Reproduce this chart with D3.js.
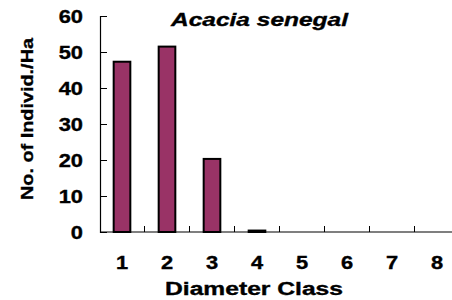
<!doctype html>
<html>
<head>
<meta charset="UTF-8">
<script src="https://d3js.org/d3.v7.min.js"></script>
<style>
  body { margin: 0; background: #fff; }
  text { font-family: Arial, "Liberation Sans", sans-serif; font-weight: bold; fill: #000; stroke: #000; stroke-width: 0.35px; }
</style>
</head>
<body>
<script>
var classes = ["1", "2", "3", "4", "5", "6", "7", "8"];
var individ = [47.3, 51.5, 20.3, 0.4, 0, 0, 0, 0];
var yTicks = [0, 10, 20, 30, 40, 50, 60];

var w = 452, h = 300;
var svg = d3.select("body").append("svg").attr("width", w).attr("height", h);

var x = d3.scaleBand().domain(classes).range([99.5, 459.5]).paddingInner(0.63).paddingOuter(0.315);
var y = d3.scaleLinear().domain([0, 60]).range([232, 16]);

// bars
svg.selectAll("rect.bar").data(individ).enter().append("rect")
  .attr("class", "bar")
  .attr("x", function (d, i) { return x(classes[i]); })
  .attr("y", function (d) { return y(d); })
  .attr("width", x.bandwidth())
  .attr("height", function (d) { return y(0) - y(d); })
  .attr("fill", "#993366")
  .attr("stroke", "#000")
  .attr("stroke-width", function (d) { return d > 0 ? 2 : 0; });

// y axis
var yAxis = svg.append("g").attr("transform", "translate(100,0)")
  .call(d3.axisRight(y).tickValues(yTicks).tickSize(7).tickFormat(""));
yAxis.select(".domain").attr("stroke", "#000").attr("stroke-width", 1.2);
yAxis.selectAll(".tick line").attr("stroke", "#000");

svg.selectAll("text.ylab").data(yTicks).enter().append("text")
  .attr("class", "ylab")
  .attr("transform", function (d) { return "translate(83," + (y(d) + 6.5) + ") scale(1.25,1)"; })
  .attr("text-anchor", "end").attr("font-size", 17.5)
  .text(function (d) { return d; });

// x axis
var xLine = svg.append("g");
xLine.append("line").attr("x1", 100).attr("x2", 452).attr("y1", y(0)).attr("y2", y(0))
  .attr("stroke", "#000").attr("stroke-width", 1.2);
var step = x.step();
xLine.selectAll("line.xt").data(classes.slice(0, 7)).enter().append("line")
  .attr("class", "xt")
  .attr("x1", function (d) { return x(d) + x.bandwidth() / 2 + step / 2; })
  .attr("x2", function (d) { return x(d) + x.bandwidth() / 2 + step / 2; })
  .attr("y1", y(0)).attr("y2", y(0) - 6)
  .attr("stroke", "#000");

svg.selectAll("text.xlab").data(classes).enter().append("text")
  .attr("class", "xlab")
  .attr("transform", function (d) { return "translate(" + (x(d) + x.bandwidth() / 2) + ",269) scale(1.25,1)"; })
  .attr("text-anchor", "middle").attr("font-size", 17.5)
  .text(function (d) { return d; });

// titles
svg.append("text").attr("x", 165).attr("y", 295)
  .attr("font-size", 17.5).attr("textLength", 178).attr("lengthAdjust", "spacingAndGlyphs")
  .text("Diameter Class");

svg.append("text").attr("transform", "translate(33,200) rotate(-90)")
  .attr("font-size", 17).attr("textLength", 162).attr("lengthAdjust", "spacingAndGlyphs")
  .text("No. of Individ./Ha");

svg.append("text").attr("x", 171).attr("y", 26)
  .attr("font-size", 18.5).attr("font-style", "italic")
  .attr("textLength", 177).attr("lengthAdjust", "spacingAndGlyphs")
  .text("Acacia senegal");
</script>
</body>
</html>
